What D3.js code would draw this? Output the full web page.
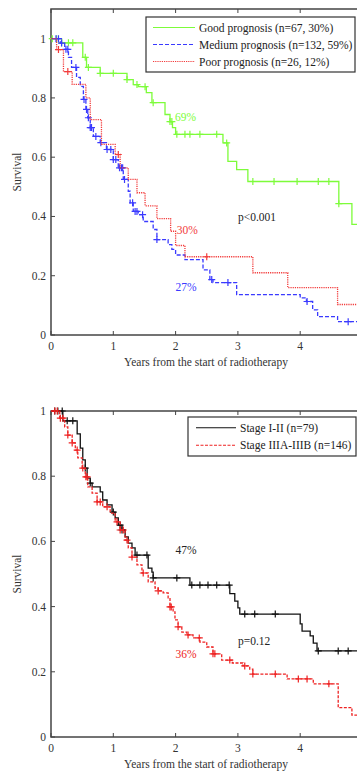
<!DOCTYPE html>
<html>
<head>
  <meta charset="utf-8">
  <style>
    body { margin: 0; background: #fff; overflow: hidden; }
    svg { display: block; font-family: "Liberation Serif", "DejaVu Serif", serif; }
  </style>
</head>
<body>
<script src="https://cdn.jsdelivr.net/npm/d3@7"></script>
<script>

// ---- data (years, survival) : each pair is a drop in the step curve ----
var goodSteps = [[0.17,0.986],[0.51,0.937],[0.57,0.903],[0.79,0.883],[1.22,0.862],[1.32,0.845],
  [1.40,0.838],[1.53,0.818],[1.62,0.784],[1.83,0.744],[1.91,0.72],[1.95,0.70],[2.0,0.677],
  [2.76,0.648],[2.84,0.586],[2.98,0.558],[3.16,0.518],[4.62,0.443],[4.83,0.373]];
var goodCensor = [0.02,0.09,0.17,0.28,0.35,0.55,0.6,0.79,1.0,1.22,1.38,1.51,1.64,1.91,1.94,
  2.02,2.15,2.23,2.39,2.66,2.82,3.24,3.58,3.95,4.29,4.46,4.62];

var mediumSteps = [[0.15,0.985],[0.22,0.964],[0.28,0.937],[0.33,0.903],[0.41,0.869],[0.47,0.839],
  [0.52,0.795],[0.56,0.761],[0.59,0.733],[0.63,0.70],[0.68,0.67],[0.79,0.649],[0.89,0.626],
  [1.0,0.592],[1.08,0.564],[1.16,0.525],[1.24,0.485],[1.27,0.446],[1.32,0.417],[1.40,0.406],
  [1.48,0.383],[1.64,0.356],[1.70,0.322],[1.88,0.305],[1.94,0.289],[2.0,0.27],[2.15,0.254],
  [2.44,0.22],[2.55,0.187],[2.6,0.177],[2.98,0.136],[4.0,0.125],[4.1,0.113],[4.2,0.085],
  [4.28,0.062],[4.6,0.045]];
var mediumCensor = [0.08,0.12,0.17,0.24,0.27,0.4,0.53,0.57,0.6,0.63,0.65,0.72,0.8,0.9,0.96,1.0,
  1.04,1.1,1.13,1.15,1.18,1.31,1.35,1.38,1.47,1.7,2.58,2.84,4.11,4.77];

var poorSteps = [[0.09,0.963],[0.2,0.889],[0.34,0.846],[0.56,0.80],[0.63,0.727],[0.81,0.643],
  [1.03,0.609],[1.11,0.564],[1.24,0.525],[1.38,0.48],[1.51,0.436],[1.70,0.393],[1.92,0.35],
  [2.0,0.302],[2.15,0.264],[3.24,0.21],[3.8,0.16],[4.6,0.103]];
var poorCensor = [0.12,0.27,1.08,2.5];

var early = [[0.19,0.97],[0.42,0.93],[0.47,0.886],[0.51,0.85],[0.55,0.825],[0.58,0.794],[0.63,0.779],
  [0.66,0.767],[0.79,0.752],[0.83,0.727],[0.9,0.712],[0.98,0.69],[1.03,0.672],[1.08,0.65],
  [1.14,0.635],[1.19,0.614],[1.24,0.595],[1.30,0.58],[1.35,0.558],[1.56,0.518],[1.62,0.506],
  [1.64,0.488],[2.23,0.466],[2.87,0.44],[2.95,0.417],[3.0,0.396],[3.03,0.377],[4.0,0.347],
  [4.03,0.325],[4.16,0.31],[4.21,0.288],[4.27,0.264]];
var earlyCensor = [0.06,0.11,0.18,0.26,0.35,0.55,0.63,1.0,1.11,1.14,1.38,1.54,1.64,2.02,2.26,
  2.39,2.52,2.66,2.86,3.11,3.27,3.6,4.29,4.61,4.77];

var late = [[0.14,0.978],[0.22,0.951],[0.27,0.926],[0.34,0.902],[0.39,0.88],[0.43,0.856],[0.5,0.825],
  [0.55,0.798],[0.59,0.767],[0.66,0.748],[0.74,0.721],[0.83,0.706],[0.95,0.687],[1.03,0.66],
  [1.11,0.635],[1.19,0.604],[1.24,0.58],[1.30,0.552],[1.38,0.528],[1.46,0.503],[1.56,0.476],
  [1.67,0.457],[1.72,0.448],[1.80,0.442],[1.88,0.427],[1.91,0.399],[1.96,0.384],[1.99,0.359],
  [2.04,0.338],[2.1,0.322],[2.18,0.313],[2.28,0.304],[2.39,0.291],[2.5,0.276],[2.6,0.255],
  [2.74,0.236],[2.91,0.227],[3.08,0.218],[3.19,0.208],[3.24,0.193],[3.79,0.178],[4.21,0.163],
  [4.61,0.09],[4.83,0.067]];
var lateCensor = [0.06,0.1,0.15,0.19,0.27,0.34,0.42,0.51,0.56,0.58,0.74,0.79,0.9,1.06,1.11,1.16,
  1.22,1.3,1.48,1.72,1.91,1.93,2.04,2.2,2.38,2.6,2.63,2.87,3.11,3.24,3.6,3.97,4.11,4.46];

var xTicks = [0,1,2,3,4];
var yTicks = [0,0.2,0.4,0.6,0.8,1];
var xTitle = "Years from the start of radiotherapy";
var yTitle = "Survival";

var panels = [
  { top: 9, bottom: 335, yMax: 1.1,
    series: [
      { steps: goodSteps, censor: goodCensor, name: "Good prognosis (n=67, 30%)", color: "#7dfc3a", dash: null },
      { steps: mediumSteps, censor: mediumCensor, name: "Medium prognosis (n=132, 59%)", color: "#3a3aff", dash: "4,2" },
      { steps: poorSteps, censor: poorCensor, name: "Poor prognosis (n=26, 12%)", color: "#f23b3b", dash: "1.2,1" }
    ],
    legend: { x: 146, y: 17, w: 209, h: 55, line0: 153, line1: 195, text: 199 },
    notes: [
      { t: 1.99, s: 0.722, text: "69%", color: "#7dfc3a" },
      { t: 2.02, s: 0.341, text: "30%", color: "#f23b3b" },
      { t: 2.0, s: 0.148, text: "27%", color: "#3a3aff" },
      { t: 3.0, s: 0.385, text: "p<0.001", color: "#222" }
    ]
  },
  { top: 411, bottom: 737, yMax: 1,
    series: [
      { steps: early, censor: earlyCensor, name: "Stage I-II (n=79)", color: "#111", dash: null },
      { steps: late, censor: lateCensor, name: "Stage IIIA-IIIB (n=146)", color: "#ee2222", dash: "3,1.5" }
    ],
    legend: { x: 188, y: 417, w: 168, h: 39, line0: 196, line1: 236, text: 240 },
    notes: [
      { t: 2.0, s: 0.561, text: "47%", color: "#222" },
      { t: 2.0, s: 0.242, text: "36%", color: "#ee2222" },
      { t: 3.0, s: 0.282, text: "p=0.12", color: "#222" }
    ]
  }
];

var fs = 11.5;

var svg = d3.select("body").append("svg")
    .attr("width", 357)
    .attr("height", 771);

var x = d3.scaleLinear().domain([0, 5]).range([51, 362.5]);

panels.forEach(function(p) {
  var y = d3.scaleLinear().domain([0, p.yMax]).range([p.bottom, p.top]);
  var g = svg.append("g");

  // frame with inward ticks (MATLAB style)
  g.append("rect")
    .attr("x", x(0)).attr("y", p.top)
    .attr("width", x(5) - x(0)).attr("height", p.bottom - p.top)
    .attr("fill", "none").attr("stroke", "#444").attr("stroke-width", 1.5);

  xTicks.forEach(function(t) {
    g.append("line").attr("x1", x(t)).attr("x2", x(t)).attr("y1", p.bottom).attr("y2", p.bottom - 4)
      .attr("stroke", "#444");
    g.append("line").attr("x1", x(t)).attr("x2", x(t)).attr("y1", p.top).attr("y2", p.top + 4)
      .attr("stroke", "#444");
    g.append("text").attr("x", x(t)).attr("y", p.bottom + 15)
      .attr("text-anchor", "middle").attr("font-size", fs).attr("fill", "#333").text(t);
  });
  yTicks.forEach(function(v) {
    g.append("line").attr("x1", x(0)).attr("x2", x(0) + 4).attr("y1", y(v)).attr("y2", y(v))
      .attr("stroke", "#444");
    g.append("text").attr("x", 46).attr("y", y(v) + 4)
      .attr("text-anchor", "end").attr("font-size", fs).attr("fill", "#333").text(v);
  });

  g.append("text").attr("x", 206).attr("y", p.bottom + 31)
    .attr("text-anchor", "middle").attr("font-size", fs).attr("fill", "#333").text(xTitle);
  g.append("text")
    .attr("transform", "translate(21," + ((p.top + p.bottom) / 2) + ") rotate(-90)")
    .attr("text-anchor", "middle").attr("font-size", fs).attr("fill", "#333").text(yTitle);

  var line = d3.line()
    .x(function(d) { return x(d[0]); })
    .y(function(d) { return y(d[1]); })
    .curve(d3.curveStepAfter);

  p.series.forEach(function(s) {
    var pts = [[0, 1]].concat(s.steps);
    pts.push([5, s.steps[s.steps.length - 1][1]]);
    g.append("path")
      .attr("d", line(pts))
      .attr("fill", "none")
      .attr("stroke", s.color)
      .attr("stroke-width", 1.3)
      .attr("stroke-dasharray", s.dash);

    // censor marks sit on the curve value at that time
    s.censor.forEach(function(t) {
      var v = 1;
      s.steps.forEach(function(d) { if (d[0] <= t) v = d[1]; });
      var cx = x(t), cy = y(v);
      g.append("path")
        .attr("d", "M" + (cx - 3.5) + "," + cy + "H" + (cx + 3.5) + "M" + cx + "," + (cy - 3.5) + "V" + (cy + 3.5))
        .attr("stroke", s.color).attr("stroke-width", 1.2).attr("fill", "none");
    });
  });

  p.notes.forEach(function(n) {
    g.append("text").attr("x", x(n.t)).attr("y", y(n.s))
      .attr("font-size", fs).attr("fill", n.color).text(n.text);
  });

  var L = p.legend;
  g.append("rect").attr("x", L.x).attr("y", L.y).attr("width", L.w).attr("height", L.h)
    .attr("fill", "#fff").attr("stroke", "#333").attr("stroke-width", 1.2);
  var rowH = (L.h - 4) / p.series.length;
  p.series.forEach(function(s, i) {
    var ry = L.y + 2 + rowH * (i + 0.5);
    g.append("line").attr("x1", L.line0).attr("x2", L.line1).attr("y1", ry).attr("y2", ry)
      .attr("stroke", s.color).attr("stroke-width", 1.2).attr("stroke-dasharray", s.dash);
    g.append("text").attr("x", L.text).attr("y", ry + 4)
      .attr("font-size", fs).attr("fill", "#222").text(s.name);
  });
});

</script>
</body>
</html>
